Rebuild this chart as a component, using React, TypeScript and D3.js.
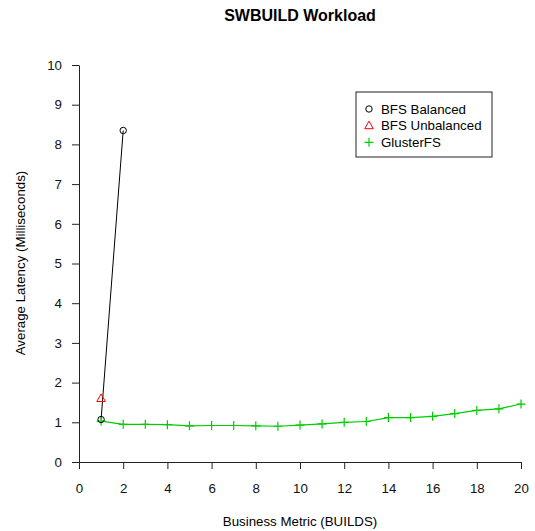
import { useEffect, useRef } from 'react';
import * as d3 from 'd3';

const balancedX = [1, 2];
const balancedY = [1.07, 8.35];
const unbalancedX = [1];
const unbalancedY = [1.6];
const glusterX = [1, 2, 3, 4, 5, 6, 7, 8, 9, 10, 11, 12, 13, 14, 15, 16, 17, 18, 19, 20];
const glusterY = [1.03, 0.95, 0.95, 0.94, 0.91, 0.92, 0.92, 0.91, 0.9, 0.93, 0.96, 1.0, 1.02, 1.12, 1.12, 1.15, 1.22, 1.3, 1.34, 1.46];
const xTicks = [0, 2, 4, 6, 8, 10, 12, 14, 16, 18, 20];
const yTicks = [0, 1, 2, 3, 4, 5, 6, 7, 8, 9, 10];
const legendLabels = ['BFS Balanced', 'BFS Unbalanced', 'GlusterFS'];

const GREEN = '#00cd00';
const RED = '#ff0000';
const FONT = '"Liberation Sans", Arial, Helvetica, sans-serif';
const FS = 13.3;

export default function App() {
  const svgRef = useRef<SVGSVGElement>(null);

  useEffect(() => {
    const svg = d3.select(svgRef.current);
    svg.selectAll('*').remove();

    const x = d3.scaleLinear().domain([0, 20]).range([79, 521]);
    const y = d3.scaleLinear().domain([0, 10]).range([462, 65]);

    // axes (R style: only the tick range, left + bottom)
    const xAxis = d3.axisBottom(x).tickValues(xTicks).tickSize(7).tickPadding(14.5).tickSizeOuter(0);
    const gx = svg.append('g').attr('transform', 'translate(0,462)').call(xAxis);
    const yAxis = d3.axisLeft(y).tickValues(yTicks).tickSize(7).tickPadding(10).tickSizeOuter(0);
    const gy = svg.append('g').attr('transform', 'translate(79,0)').call(yAxis);
    [gx, gy].forEach((g) => {
      g.selectAll('path,line').attr('stroke', '#222');
      g.selectAll('text').attr('font-family', FONT).attr('font-size', FS).attr('fill', '#111');
    });

    // lines
    const ln = d3
      .line<number>()
      .x((_, i) => x(glusterX[i]))
      .y((d) => y(d));
    svg.append('path').attr('d', ln(glusterY)).attr('fill', 'none').attr('stroke', GREEN).attr('stroke-width', 1.2);
    const lb = d3
      .line<number>()
      .x((_, i) => x(balancedX[i]))
      .y((d) => y(d));
    svg.append('path').attr('d', lb(balancedY)).attr('fill', 'none').attr('stroke', '#000').attr('stroke-width', 1);

    const plus = (g: any, cx: number, cy: number) => {
      g.append('path')
        .attr('d', `M${cx - 4.5},${cy}H${cx + 4.5}M${cx},${cy - 4.5}V${cy + 4.5}`)
        .attr('stroke', GREEN)
        .attr('stroke-width', 1.2)
        .attr('fill', 'none');
    };
    const tri = (g: any, cx: number, cy: number) => {
      g.append('path')
        .attr('d', `M${cx},${cy - 4.6}L${cx + 4.3},${cy + 3}L${cx - 4.3},${cy + 3}Z`)
        .attr('stroke', RED)
        .attr('stroke-width', 1)
        .attr('fill', 'none');
    };
    const circ = (g: any, cx: number, cy: number) => {
      g.append('circle').attr('cx', cx).attr('cy', cy).attr('r', 3.2).attr('stroke', '#000').attr('stroke-width', 1).attr('fill', 'none');
    };

    glusterY.forEach((v, i) => plus(svg, x(glusterX[i]), y(v)));
    unbalancedY.forEach((v, i) => tri(svg, x(unbalancedX[i]), y(v)));
    balancedY.forEach((v, i) => circ(svg, x(balancedX[i]), y(v)));

    // title and axis labels
    svg.append('text').attr('x', 300).attr('y', 21).attr('text-anchor', 'middle')
      .attr('font-family', FONT).attr('font-weight', 'bold').attr('font-size', 16).text('SWBUILD Workload');
    svg.append('text').attr('x', 300).attr('y', 526).attr('text-anchor', 'middle')
      .attr('font-family', FONT).attr('font-size', FS).text('Business Metric (BUILDS)');
    svg.append('text').attr('transform', 'translate(25,263) rotate(-90)').attr('text-anchor', 'middle')
      .attr('font-family', FONT).attr('font-size', FS).text('Average Latency (Milliseconds)');

    // legend
    const lg = svg.append('g');
    lg.append('rect').attr('x', 356).attr('y', 92).attr('width', 136).attr('height', 65)
      .attr('fill', 'white').attr('stroke', '#222').attr('stroke-width', 1);
    const rowY = [109, 125.7, 142.3];
    circ(lg, 369, rowY[0]);
    tri(lg, 369, rowY[1]);
    plus(lg, 369, rowY[2]);
    legendLabels.forEach((t, i) => {
      lg.append('text').attr('x', 381).attr('y', rowY[i]).attr('dy', '0.35em')
        .attr('font-family', FONT).attr('font-size', FS).text(t);
    });
  }, []);

  return (
    <svg ref={svgRef} width={535} height={531} style={{ position: 'absolute', left: 0, top: 0, background: 'white' }} />
  );
}
